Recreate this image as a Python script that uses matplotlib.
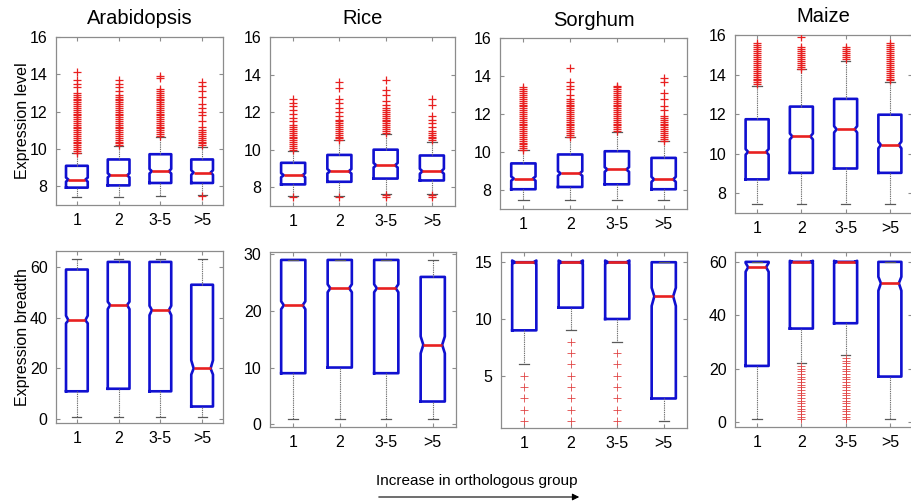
import numpy as np
import matplotlib
matplotlib.use("Agg")
import matplotlib.pyplot as plt

plt.rcParams['font.family'] = ['Liberation Sans', 'DejaVu Sans']

species = ["Arabidopsis", "Rice", "Sorghum", "Maize"]
groups = ["1", "2", "3-5", ">5"]

# box summaries per group: (lower whisker, q1, median, q3, upper whisker)
# notches: (ci low, ci high); outliers listed per group

# ---- expression level ----
arab_lvl_box = [(7.43, 7.93, 8.36, 9.10, 9.76), (7.43, 8.05, 8.59, 9.44, 10.17),
                (7.46, 8.18, 8.81, 9.72, 10.65), (7.55, 8.18, 8.74, 9.44, 10.12)]
arab_lvl_notch = [(8.25, 8.47), (8.48, 8.70), (8.69, 8.93), (8.62, 8.86)]
arab_lvl_out = [
    [9.8, 9.9, 10.0, 10.1, 10.2, 10.3, 10.4, 10.5, 10.6, 10.7, 10.8, 10.9, 11.0, 11.1,
     11.2, 11.3, 11.4, 11.5, 11.6, 11.7, 11.8, 11.9, 12.0, 12.1, 12.2, 12.3, 12.4, 12.5,
     12.6, 12.7, 12.8, 12.9, 13.0, 13.3, 13.5, 13.7, 14.1],
    [10.2, 10.3, 10.4, 10.5, 10.6, 10.7, 10.8, 10.9, 11.0, 11.1, 11.2, 11.3, 11.4, 11.5,
     11.6, 11.7, 11.8, 11.9, 12.0, 12.1, 12.2, 12.3, 12.4, 12.5, 12.6, 12.7, 12.8, 12.9,
     13.1, 13.3, 13.5, 13.7],
    [10.7, 10.8, 10.9, 11.0, 11.1, 11.2, 11.3, 11.4, 11.5, 11.6, 11.7, 11.8, 11.9, 12.0,
     12.1, 12.2, 12.3, 12.4, 12.5, 12.6, 12.7, 12.8, 12.9, 13.0, 13.1, 13.2, 13.8, 13.9],
    [7.5, 10.2, 10.3, 10.4, 10.5, 10.6, 10.7, 10.8, 10.9, 11.0, 11.2, 11.5, 11.8, 12.0,
     12.2, 12.4, 12.8, 13.1, 13.4, 13.6],
]

rice_lvl_box = [(7.55, 8.15, 8.64, 9.30, 9.92), (7.55, 8.29, 8.85, 9.72, 10.50),
                (7.65, 8.46, 9.17, 10.00, 10.81), (7.65, 8.36, 8.85, 9.69, 10.40)]
rice_lvl_notch = [(8.53, 8.75), (8.73, 8.97), (9.05, 9.29), (8.72, 8.98)]
rice_lvl_out = [
    [7.48, 10.0, 10.1, 10.2, 10.3, 10.4, 10.5, 10.6, 10.7, 10.8, 10.9, 11.0, 11.1, 11.2,
     11.3, 11.5, 11.7, 11.9, 12.1, 12.3, 12.5, 12.7],
    [7.48, 10.5, 10.6, 10.7, 10.8, 10.9, 11.0, 11.1, 11.2, 11.3, 11.4, 11.5, 11.6, 11.8,
     12.0, 12.2, 12.5, 12.7, 13.3, 13.6],
    [7.5, 7.6, 10.9, 11.0, 11.1, 11.2, 11.3, 11.4, 11.5, 11.6, 11.7, 11.8, 11.9, 12.0,
     12.1, 12.2, 12.4, 12.6, 12.9, 13.2, 13.7],
    [7.5, 7.6, 10.5, 10.6, 10.7, 10.8, 10.9, 11.0, 11.2, 11.4, 11.6, 11.8, 12.4, 12.7],
]

sorg_lvl_box = [(7.48, 8.04, 8.60, 9.40, 10.09), (7.48, 8.16, 8.87, 9.87, 10.79),
                (7.48, 8.30, 9.08, 10.04, 11.03), (7.48, 8.04, 8.56, 9.69, 10.56)]
sorg_lvl_notch = [(8.49, 8.71), (8.75, 8.99), (8.96, 9.20), (8.43, 8.69)]
sorg_lvl_out = [
    [10.1, 10.2, 10.3, 10.4, 10.5, 10.6, 10.7, 10.8, 10.9, 11.0, 11.1, 11.2, 11.3, 11.4,
     11.5, 11.6, 11.7, 11.8, 11.9, 12.0, 12.1, 12.2, 12.3, 12.4, 12.5, 12.6, 12.7, 12.8,
     12.9, 13.0, 13.1, 13.2, 13.3, 13.4],
    [10.8, 10.9, 11.0, 11.1, 11.2, 11.3, 11.4, 11.5, 11.6, 11.7, 11.8, 11.9, 12.0, 12.1,
     12.2, 12.3, 12.4, 12.5, 12.6, 12.7, 12.8, 13.0, 13.3, 13.5, 13.7, 14.4],
    [11.1, 11.2, 11.3, 11.4, 11.5, 11.6, 11.7, 11.8, 11.9, 12.0, 12.1, 12.2, 12.3, 12.4,
     12.5, 12.6, 12.7, 12.8, 12.9, 13.0, 13.1, 13.2, 13.3, 13.4, 13.5],
    [10.6, 10.7, 10.8, 10.9, 11.0, 11.1, 11.2, 11.3, 11.4, 11.5, 11.6, 11.7, 11.8, 11.9,
     12.2, 12.4, 12.8, 13.1, 13.7, 13.9],
]

maize_lvl_box = [(7.48, 8.70, 10.09, 11.74, 13.42), (7.48, 9.03, 10.87, 12.38, 14.28),
                 (7.48, 9.25, 11.23, 12.77, 14.70), (7.48, 9.03, 10.44, 11.97, 13.63)]
maize_lvl_notch = [(9.95, 10.23), (10.72, 11.02), (11.07, 11.39), (10.27, 10.61)]
maize_lvl_out = [
    [13.5, 13.6, 13.7, 13.8, 13.9, 14.0, 14.1, 14.2, 14.3, 14.4, 14.5, 14.6, 14.7, 14.8,
     14.9, 15.0, 15.1, 15.2, 15.3, 15.4, 15.5, 15.6],
    [14.3, 14.4, 14.5, 14.6, 14.7, 14.8, 14.9, 15.0, 15.1, 15.2, 15.3, 15.4, 15.9],
    [14.8, 14.9, 15.0, 15.1, 15.2, 15.3, 15.4],
    [13.7, 13.8, 13.9, 14.0, 14.1, 14.2, 14.3, 14.4, 14.5, 14.6, 14.7, 14.8, 14.9, 15.0,
     15.1, 15.2, 15.3, 15.4, 15.5, 15.6],
]

# ---- expression breadth ----
arab_brd_box = [(1, 11, 39, 59, 63), (1, 12, 45, 62, 63), (1, 11, 43, 62, 63), (1, 5, 20, 53, 63)]
arab_brd_notch = [(37.8, 40.8), (43.4, 46.3), (41.0, 44.7), (17.6, 23.2)]
arab_brd_out = [[], [], [], []]

rice_brd_box = [(1, 9, 21, 29, 29), (1, 10, 24, 29, 29), (1, 9, 24, 29, 29), (1, 4, 14, 26, 29)]
rice_brd_notch = [(20.3, 21.7), (23.3, 24.7), (23.3, 24.7), (12.5, 15.5)]
rice_brd_out = [[], [], [], []]

sorg_brd_box = [(6, 9, 15, 15, 15), (9, 11, 15, 15, 15), (8, 10, 15, 15, 15), (1, 3, 12, 15, 15)]
sorg_brd_notch = [(14.85, 15.15), (14.85, 15.15), (14.85, 15.15), (11.15, 12.75)]
sorg_brd_out = [[1, 2, 3, 4, 5], [1, 2, 3, 4, 5, 6, 7, 8], [1, 2, 3, 4, 5, 6, 7], []]

maize_brd_box = [(1, 21, 58, 60, 60), (22, 35, 60, 60, 60), (25, 37, 60, 60, 60), (1, 17, 52, 60, 60)]
maize_brd_notch = [(56.3, 59.6), (59.6, 60.4), (59.6, 60.4), (49.2, 54.4)]
maize_brd_out = [
    [],
    [1, 2, 3, 4, 5, 6, 7, 8, 9, 10, 11, 12, 13, 14, 15, 16, 17, 18, 19, 20, 21],
    [1, 2, 3, 4, 5, 6, 7, 8, 9, 10, 11, 12, 13, 14, 15, 16, 17, 18, 19, 20, 21, 22, 23, 24],
    [],
]

level_panels = [(arab_lvl_box, arab_lvl_notch, arab_lvl_out),
                (rice_lvl_box, rice_lvl_notch, rice_lvl_out),
                (sorg_lvl_box, sorg_lvl_notch, sorg_lvl_out),
                (maize_lvl_box, maize_lvl_notch, maize_lvl_out)]
breadth_panels = [(arab_brd_box, arab_brd_notch, arab_brd_out),
                  (rice_brd_box, rice_brd_notch, rice_brd_out),
                  (sorg_brd_box, sorg_brd_notch, sorg_brd_out),
                  (maize_brd_box, maize_brd_notch, maize_brd_out)]

level_ylim = (7, 16)
level_yticks = [8, 10, 12, 14, 16]
breadth_ylims = [(-1.5, 66.3), (-0.5, 30.4), (0.4, 15.9), (-1.9, 63.7)]
breadth_yticks = [[0, 20, 40, 60], [0, 10, 20, 30], [5, 10, 15], [0, 20, 40, 60]]

# axes rectangles in pixels: (left, top, right, bottom)
W, H = 911, 503
top_rects = [(56, 37, 223, 205), (270, 37, 455, 206), (500, 38, 687, 209), (735, 35, 912, 213)]
bot_rects = [(56, 251, 223, 423), (270, 252, 456, 427), (501, 252, 687, 428), (735, 252, 912, 427)]

BOX_W = 0.52
RED = '#e82020'


def make_stats(boxes, notches, outs):
    stats = []
    for (lo, q1, med, q3, hi), (cl, ch), fl in zip(boxes, notches, outs):
        stats.append(dict(whislo=lo, q1=q1, med=med, q3=q3, whishi=hi,
                          cilo=cl, cihi=ch, fliers=np.array(fl, dtype=float)))
    return stats


def draw_panel(ax, stats, flier_mew=0.9, flier_color=RED):
    pos = np.arange(1, len(stats) + 1)
    art = ax.bxp(stats, positions=pos, widths=BOX_W, shownotches=True,
                 capwidths=0.22,
                 boxprops=dict(color='#1010d0', lw=1.9),
                 medianprops=dict(color=RED, lw=1.9),
                 whiskerprops=dict(color='0.45', lw=0.8, ls=(0, (1.2, 0.8))),
                 capprops=dict(color='0.35', lw=0.9))
    for fl in art['fliers']:
        fl.set_marker('+')
        fl.set_markersize(6)
        fl.set_markeredgewidth(flier_mew)
        fl.set_color(flier_color)
        fl.set_markeredgecolor(flier_color)
        fl.set_zorder(3)
    # shallower notches: pull the notch waist out to 78% of the box width
    for p, box, med in zip(pos, art['boxes'], art['medians']):
        xd = np.asarray(box.get_xdata(), dtype=float)
        inner = np.abs(xd - p) < BOX_W * 0.4
        xd[inner] = p + np.sign(xd[inner] - p) * BOX_W * 0.39
        box.set_xdata(xd)
        med.set_xdata([p - BOX_W * 0.39, p + BOX_W * 0.39])
        box.set_solid_joinstyle('round')
    ax.set_xlim(0.5, 4.5)
    ax.set_xticks(pos)
    ax.set_xticklabels(groups)
    ax.tick_params(direction='in', length=3, top=True, right=True,
                   color='0.55', labelsize=11.5, pad=6)
    for s in ax.spines.values():
        s.set_color('0.55')
        s.set_linewidth(0.9)


fig = plt.figure(figsize=(W / 100, H / 100), dpi=100)


def px_axes(rect):
    l, t, r, b = rect
    return fig.add_axes([l / W, 1 - b / H, (r - l) / W, (b - t) / H])


for i, name in enumerate(species):
    ax = px_axes(top_rects[i])
    draw_panel(ax, make_stats(*level_panels[i]))
    ax.set_ylim(*level_ylim)
    ax.set_yticks(level_yticks)
    ax.set_title(name, fontsize=14.5, pad=9)
    if i == 0:
        ax.set_ylabel("Expression level", fontsize=11.5)
        ax.yaxis.set_label_coords(-0.155, 0.5)

    ax = px_axes(bot_rects[i])
    draw_panel(ax, make_stats(*breadth_panels[i]), flier_mew=0.6, flier_color='#e04545')
    ax.set_ylim(*breadth_ylims[i])
    ax.set_yticks(breadth_yticks[i])
    if i == 0:
        ax.set_ylabel("Expression breadth", fontsize=11.5)
        ax.yaxis.set_label_coords(-0.155, 0.5)

fig.text(376 / W, 1 - 481 / H, "Increase in orthologous group", fontsize=11,
         ha='left', va='center')
fig.add_artist(matplotlib.patches.FancyArrowPatch(
    (376 / W, 1 - 497 / H), (582 / W, 1 - 497 / H), transform=fig.transFigure,
    arrowstyle='-|>', mutation_scale=10, lw=0.8, color='black'))

fig.savefig("out.png", dpi=100)
